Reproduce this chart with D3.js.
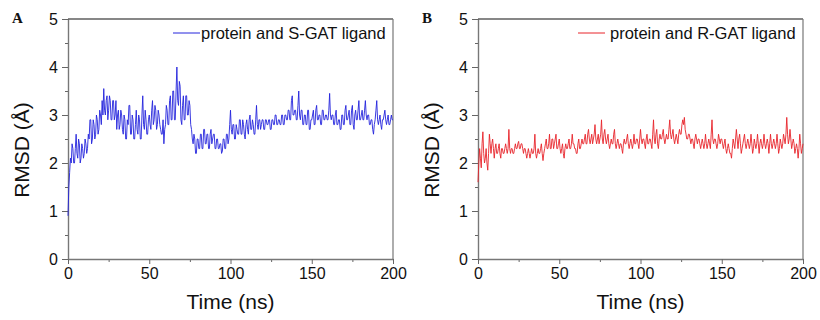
<!DOCTYPE html>
<html>
<head>
<meta charset="utf-8">
<script src="https://cdn.jsdelivr.net/npm/d3@7"></script>
<style>
  body { margin: 0; background: #fff; }
  text { font-family: "Liberation Sans", Arial, sans-serif; fill: #111; }
  .panel-label { font-family: "Liberation Serif", "Times New Roman", serif; font-weight: bold; font-size: 15px; }
</style>
</head>
<body>
<div id="chart"></div>
<script>
const timeStep = 0.5;
const rmsdS = [
  0.9, 1.5, 1.8, 2.1, 2.0, 2.4, 2.3, 2.0, 2.0, 2.3, 2.6, 2.2, 2.1, 2.5, 2.4, 2.0, 2.1, 2.4, 2.3, 2.1,
  2.2, 2.5, 2.4, 2.2, 2.3, 2.6, 2.5, 2.9, 2.9, 2.4, 2.5, 2.9, 2.8, 2.5, 2.6, 3.0, 2.9, 2.6, 2.7, 3.1,
  3.0, 2.8, 3.3, 3.0, 3.55, 3.1, 3.0, 3.3, 3.4, 2.9, 3.1, 3.4, 3.3, 2.9, 2.9, 3.3, 3.3, 2.9, 3.0, 3.3,
  2.7, 3.0, 3.1, 2.7, 2.8, 3.1, 3.0, 2.7, 2.6, 3.0, 2.9, 2.5, 2.5, 2.9, 2.8, 3.2, 3.2, 2.6, 2.6, 3.0,
  2.9, 2.5, 2.5, 2.8, 3.1, 2.7, 2.6, 3.0, 2.9, 2.5, 2.5, 3.0, 3.4, 2.8, 2.7, 3.1, 2.9, 2.6, 2.6, 2.9,
  3.0, 2.8, 2.7, 3.1, 3.3, 2.8, 2.9, 3.2, 3.1, 2.7, 2.8, 3.1, 3.0, 2.8, 2.7, 2.6, 2.6, 2.9, 2.4, 2.7,
  2.8, 3.2, 3.1, 2.8, 2.8, 3.3, 3.4, 2.9, 2.9, 3.5, 3.5, 2.9, 2.9, 3.5, 4.0, 3.3, 3.2, 3.7, 3.6, 2.9,
  2.8, 3.2, 3.4, 2.9, 2.9, 3.4, 3.4, 3.0, 3.0, 3.3, 3.2, 2.8, 2.7, 2.5, 2.4, 2.6, 2.5, 2.2, 2.2, 2.5,
  2.5, 2.3, 2.3, 2.6, 2.6, 2.3, 2.3, 2.7, 2.7, 2.4, 2.4, 2.6, 2.6, 2.3, 2.3, 2.6, 2.7, 2.4, 2.5, 2.6,
  2.6, 2.3, 2.3, 2.5, 2.5, 2.3, 2.3, 2.4, 2.4, 2.2, 2.25, 2.5, 2.5, 2.3, 2.3, 2.6, 2.6, 2.4, 2.5, 2.8,
  3.1, 2.7, 2.6, 2.8, 2.8, 2.5, 2.5, 2.8, 2.7, 2.6, 2.6, 2.9, 2.9, 2.6, 2.6, 2.9, 2.8, 2.6, 2.5, 2.8,
  2.9, 2.7, 2.6, 2.9, 3.0, 2.7, 2.7, 2.9, 2.8, 2.6, 2.6, 2.9, 3.2, 2.8, 2.7, 2.9, 2.9, 2.7, 2.8, 2.9,
  2.9, 2.7, 2.7, 2.9, 2.9, 2.8, 2.8, 2.9, 2.9, 2.7, 2.7, 2.9, 2.9, 2.8, 2.8, 3.0, 3.0, 2.8, 2.8, 2.9,
  2.9, 2.8, 2.8, 3.0, 3.0, 2.8, 2.8, 3.0, 3.0, 2.9, 2.9, 3.1, 3.1, 2.9, 2.9, 3.3, 3.4, 3.0, 3.0, 3.1,
  3.1, 2.9, 2.9, 3.2, 3.5, 3.0, 2.9, 3.1, 3.1, 2.8, 2.8, 3.0, 3.0, 2.8, 2.8, 3.1, 3.1, 2.7, 2.7, 2.9,
  2.9, 3.0, 3.1, 2.8, 2.8, 3.1, 3.2, 2.9, 2.9, 3.0, 3.0, 2.8, 2.8, 3.1, 3.1, 2.9, 2.9, 3.0, 3.0, 2.9,
  2.9, 3.1, 3.45, 3.0, 2.9, 3.0, 3.0, 2.8, 2.8, 3.0, 3.1, 2.8, 2.8, 2.9, 2.9, 2.7, 2.7, 3.0, 3.0, 2.8,
  2.8, 3.1, 3.2, 2.9, 2.9, 3.0, 3.1, 2.8, 2.8, 3.1, 3.2, 2.8, 2.7, 3.0, 3.1, 2.9, 2.9, 3.1, 3.3, 2.9,
  2.9, 3.0, 3.1, 2.9, 2.9, 3.1, 3.3, 3.0, 2.9, 3.0, 3.0, 2.8, 2.8, 2.9, 2.9, 2.7, 2.6, 2.8, 2.9, 3.1,
  3.3, 2.9, 2.8, 2.9, 3.0, 2.8, 2.7, 2.9, 2.9, 3.0, 3.1, 2.9, 2.8, 2.9, 3.0, 2.8, 2.8, 2.9, 3.0, 2.9,
  2.9
];
const rmsdR = [
  1.6, 2.0, 2.3, 2.1, 1.9, 2.4, 2.65, 2.2, 2.0, 2.1, 2.3, 2.0, 1.85, 2.2, 2.6, 2.4, 2.2, 2.4, 2.5, 2.3,
  2.1, 2.3, 2.4, 2.2, 2.2, 2.3, 2.4, 2.2, 2.1, 2.3, 2.3, 2.2, 2.2, 2.3, 2.4, 2.3, 2.2, 2.3, 2.7, 2.3,
  2.2, 2.3, 2.3, 2.2, 2.2, 2.3, 2.4, 2.3, 2.3, 2.4, 2.45, 2.3, 2.3, 2.4, 2.4, 2.3, 2.2, 2.3, 2.3, 2.2,
  2.1, 2.2, 2.3, 2.2, 2.1, 2.2, 2.3, 2.2, 2.2, 2.3, 2.6, 2.2, 2.1, 2.2, 2.3, 2.2, 2.2, 2.3, 2.4, 2.2,
  2.05, 2.2, 2.3, 2.4, 2.5, 2.3, 2.3, 2.4, 2.6, 2.3, 2.3, 2.5, 2.5, 2.3, 2.4, 2.5, 2.6, 2.3, 2.3, 2.4,
  2.5, 2.3, 2.2, 2.3, 2.4, 2.2, 2.1, 2.3, 2.4, 2.3, 2.3, 2.4, 2.5, 2.3, 2.3, 2.4, 2.6, 2.4, 2.4, 2.3,
  2.3, 2.2, 2.2, 2.4, 2.5, 2.3, 2.3, 2.4, 2.5, 2.4, 2.4, 2.5, 2.6, 2.4, 2.4, 2.6, 2.7, 2.5, 2.4, 2.5,
  2.6, 2.4, 2.5, 2.6, 2.8, 2.5, 2.4, 2.5, 2.6, 2.4, 2.5, 2.6, 2.9, 2.5, 2.4, 2.6, 2.7, 2.5, 2.4, 2.5,
  2.6, 2.4, 2.3, 2.4, 2.5, 2.4, 2.4, 2.6, 2.7, 2.4, 2.3, 2.4, 2.5, 2.4, 2.3, 2.4, 2.4, 2.3, 2.2, 2.4,
  2.5, 2.4, 2.4, 2.5, 2.6, 2.4, 2.3, 2.4, 2.5, 2.4, 2.3, 2.4, 2.6, 2.4, 2.4, 2.5, 2.5, 2.4, 2.3, 2.5,
  2.7, 2.5, 2.4, 2.5, 2.5, 2.4, 2.3, 2.5, 2.6, 2.4, 2.4, 2.5, 2.5, 2.4, 2.3, 2.6, 2.9, 2.5, 2.4, 2.6,
  2.7, 2.4, 2.3, 2.5, 2.6, 2.5, 2.5, 2.6, 2.7, 2.5, 2.4, 2.5, 2.6, 2.5, 2.5, 2.7, 2.9, 2.6, 2.5, 2.6,
  2.7, 2.5, 2.4, 2.5, 2.6, 2.5, 2.4, 2.6, 2.7, 2.6, 2.6, 2.8, 2.9, 2.8, 2.95, 2.7, 2.6, 2.5, 2.5, 2.6,
  2.6, 2.5, 2.4, 2.5, 2.5, 2.4, 2.3, 2.5, 2.6, 2.5, 2.4, 2.5, 2.5, 2.4, 2.3, 2.4, 2.5, 2.4, 2.3, 2.4,
  2.6, 2.4, 2.3, 2.4, 2.5, 2.4, 2.3, 2.6, 2.9, 2.5, 2.4, 2.5, 2.5, 2.4, 2.3, 2.4, 2.6, 2.5, 2.4, 2.5,
  2.5, 2.4, 2.3, 2.4, 2.5, 2.3, 2.2, 2.3, 2.4, 2.3, 2.2, 2.2, 2.1, 2.3, 2.5, 2.4, 2.3, 2.5, 2.7, 2.5,
  2.3, 2.5, 2.6, 2.4, 2.2, 2.3, 2.4, 2.5, 2.6, 2.4, 2.3, 2.4, 2.5, 2.4, 2.3, 2.4, 2.6, 2.4, 2.2, 2.3,
  2.5, 2.4, 2.3, 2.4, 2.6, 2.4, 2.2, 2.4, 2.5, 2.4, 2.3, 2.4, 2.6, 2.4, 2.3, 2.4, 2.5, 2.4, 2.2, 2.4,
  2.6, 2.4, 2.3, 2.4, 2.5, 2.4, 2.3, 2.4, 2.6, 2.4, 2.2, 2.3, 2.5, 2.4, 2.3, 2.4, 2.6, 2.5, 2.4, 2.6,
  2.95, 2.6, 2.4, 2.5, 2.7, 2.5, 2.3, 2.4, 2.5, 2.4, 2.2, 2.3, 2.4, 2.3, 2.1, 2.3, 2.6, 2.4, 2.2, 2.3,
  2.4
];
const xTicks = [0, 50, 100, 150, 200];
const yTicks = [0, 1, 2, 3, 4, 5];

const panels = [
  { label: "A", legend: "protein and S-GAT ligand", values: rmsdS, color: "#2424dc", left: 68 },
  { label: "B", legend: "protein and R-GAT ligand", values: rmsdR, color: "#e8242a", left: 478 }
];

// --- sizing ---
const W = 820, H = 320;
const plotW = 325, plotTop = 19, plotH = 240;

const svg = d3.select("#chart").append("svg")
  .attr("width", W)
  .attr("height", H);

panels.forEach(p => {
  const g = svg.append("g")
    .attr("transform", `translate(${p.left}, ${plotTop})`);

  const x = d3.scaleLinear().domain([0, 200]).range([0, plotW]);
  const y = d3.scaleLinear().domain([0, 5]).range([plotH, 0]);

  // minor ticks
  g.append("g")
    .attr("transform", `translate(0, ${plotH})`)
    .call(d3.axisBottom(x).tickValues(d3.range(25, 200, 50)).tickSize(3).tickFormat(""))
    .call(a => a.select(".domain").remove())
    .selectAll("line").attr("stroke", "#666");
  g.append("g")
    .call(d3.axisLeft(y).tickValues(d3.range(0.5, 5, 1)).tickSize(3).tickFormat(""))
    .call(a => a.select(".domain").remove())
    .selectAll("line").attr("stroke", "#666");

  // major axes
  const xAxis = g.append("g")
    .attr("transform", `translate(0, ${plotH})`)
    .call(d3.axisBottom(x).tickValues(xTicks).tickFormat(d3.format("d"))
      .tickSize(5).tickPadding(4).tickSizeOuter(0));
  const yAxis = g.append("g")
    .call(d3.axisLeft(y).tickValues(yTicks).tickFormat(d3.format("d"))
      .tickSize(6).tickPadding(4).tickSizeOuter(0));

  [xAxis, yAxis].forEach(a => {
    a.select(".domain").attr("stroke", "#777").attr("stroke-width", 1.4);
    a.selectAll(".tick line").attr("stroke", "#666");
    a.selectAll("text").style("font-size", "16px").attr("fill", "#111");
  });

  // top and right frame
  g.append("line")
    .attr("x1", 0).attr("x2", plotW).attr("y1", 0).attr("y2", 0)
    .attr("stroke", "#111").attr("stroke-width", 1.2);
  g.append("line")
    .attr("x1", plotW).attr("x2", plotW).attr("y1", 0).attr("y2", plotH)
    .attr("stroke", "#777").attr("stroke-width", 1.2);

  // series
  const line = d3.line()
    .x((d, i) => x(i * timeStep))
    .y(d => y(d));

  g.append("path")
    .datum(p.values)
    .attr("fill", "none")
    .attr("stroke", p.color)
    .attr("stroke-width", 0.9)
    .attr("stroke-linejoin", "round")
    .attr("d", line);

  // legend
  const lg = g.append("g").attr("transform", `translate(${p.label === "A" ? 105 : 100}, 14)`);
  lg.append("line")
    .attr("x1", 0).attr("x2", 27).attr("y1", 0).attr("y2", 0)
    .attr("stroke", p.color).attr("stroke-width", 1);
  lg.append("text")
    .attr("x", p.label === "A" ? 28 : 32)
    .attr("y", 5.5)
    .style("font-size", "16.5px")
    .text(p.legend);

  // axis titles
  g.append("text")
    .attr("x", plotW / 2)
    .attr("y", 309 - plotTop)
    .attr("text-anchor", "middle")
    .style("font-size", "21px")
    .text("Time (ns)");

  g.append("text")
    .attr("transform", `translate(${29 - 68}, ${150 - plotTop}) rotate(-90)`)
    .attr("text-anchor", "middle")
    .style("font-size", "21px")
    .text("RMSD (Å)");

  // panel letter
  svg.append("text")
    .attr("class", "panel-label")
    .attr("x", p.left - 56)
    .attr("y", 23)
    .text(p.label);
});
</script>
</body>
</html>
